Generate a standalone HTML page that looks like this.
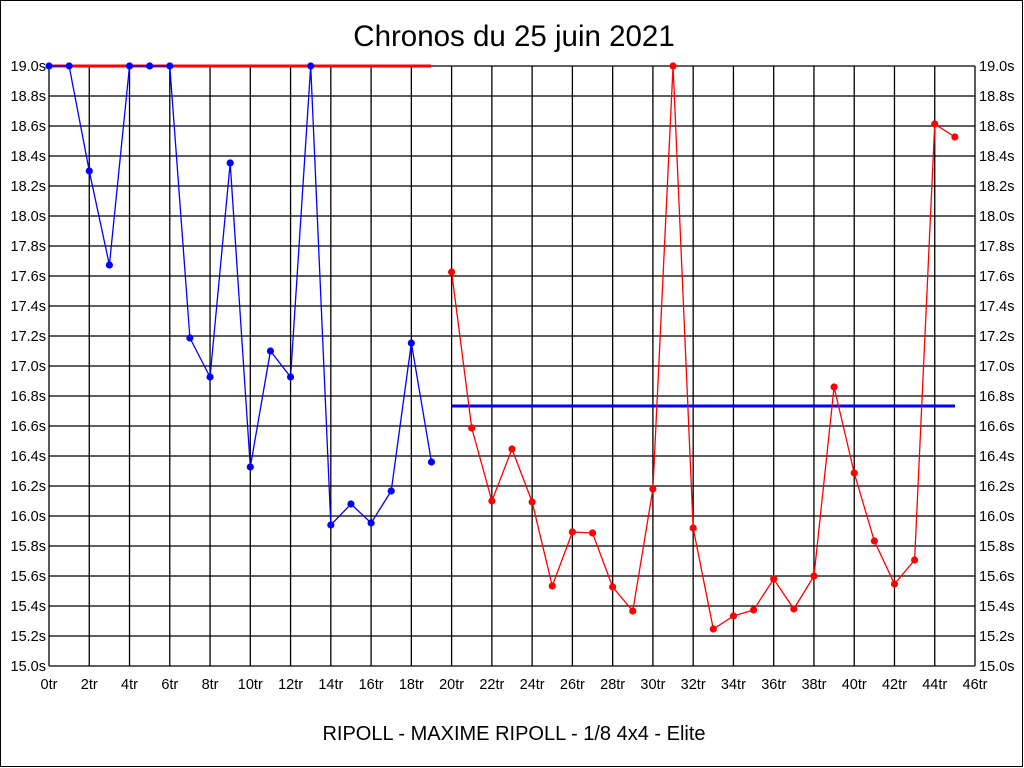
<!DOCTYPE html><html><head><style>body{margin:0;background:#fff}svg{display:block}</style></head><body>
<svg width="1024" height="768" xmlns="http://www.w3.org/2000/svg" font-family="Liberation Sans, sans-serif">
<rect x="0.5" y="0.5" width="1022" height="766" fill="#fff" stroke="#000"/>
<text x="514" y="46" font-size="29.5" text-anchor="middle">Chronos du 25 juin 2021</text>
<text x="514" y="740" font-size="20" text-anchor="middle">RIPOLL - MAXIME RIPOLL - 1/8 4x4 - Elite</text>
<g id="g" stroke="#000" stroke-width="1.3"></g>
<g id="lab" font-size="14.5"></g>
<line x1="49" y1="66" x2="431" y2="66" stroke="#f00" stroke-width="3"/>
<line x1="452" y1="406" x2="955" y2="406" stroke="#00f" stroke-width="3"/>
<g id="s"></g>
<script>
var g=document.getElementById('g'),lab=document.getElementById('lab'),s=document.getElementById('s'),ns='http://www.w3.org/2000/svg';
function el(p,t,a,txt){var e=document.createElementNS(ns,t);for(var k in a)e.setAttribute(k,a[k]);if(txt)e.textContent=txt;p.appendChild(e);return e;}
function X(i){return 49+i*926/46;}
for(var i=0;i<=23;i++){var x=X(i*2);el(g,'line',{x1:x,y1:66,x2:x,y2:666});el(lab,'text',{x:x,y:689,'text-anchor':'middle'},(i*2)+'tr');}
for(var j=0;j<=20;j++){var y=666-j*30;el(g,'line',{x1:49,y1:y,x2:975,y2:y});var v=(15+j*0.2).toFixed(1)+'s';el(lab,'text',{x:46,y:y+5,'text-anchor':'end'},v);el(lab,'text',{x:979,y:y+5},v);}
var b=[66,66,171,265,66,66,66,338,377,163,467,351,377,66,525,504,523,491,343,462];
var r=[272,428,501,449,502,586,532,533,587,611,489,66,528,629,616,610,579,609,576,387,473,541,584,560,124,137];
function ser(arr,off,c){var p=arr.map(function(y,i){return X(i+off)+','+y;}).join(' ');el(s,'polyline',{points:p,fill:'none',stroke:c,'stroke-width':1.3});arr.forEach(function(y,i){el(s,'circle',{cx:X(i+off),cy:y,r:3.6,fill:c});});}
ser(b,0,'#00f');ser(r,20,'#f00');
</script>
</svg></body></html>
